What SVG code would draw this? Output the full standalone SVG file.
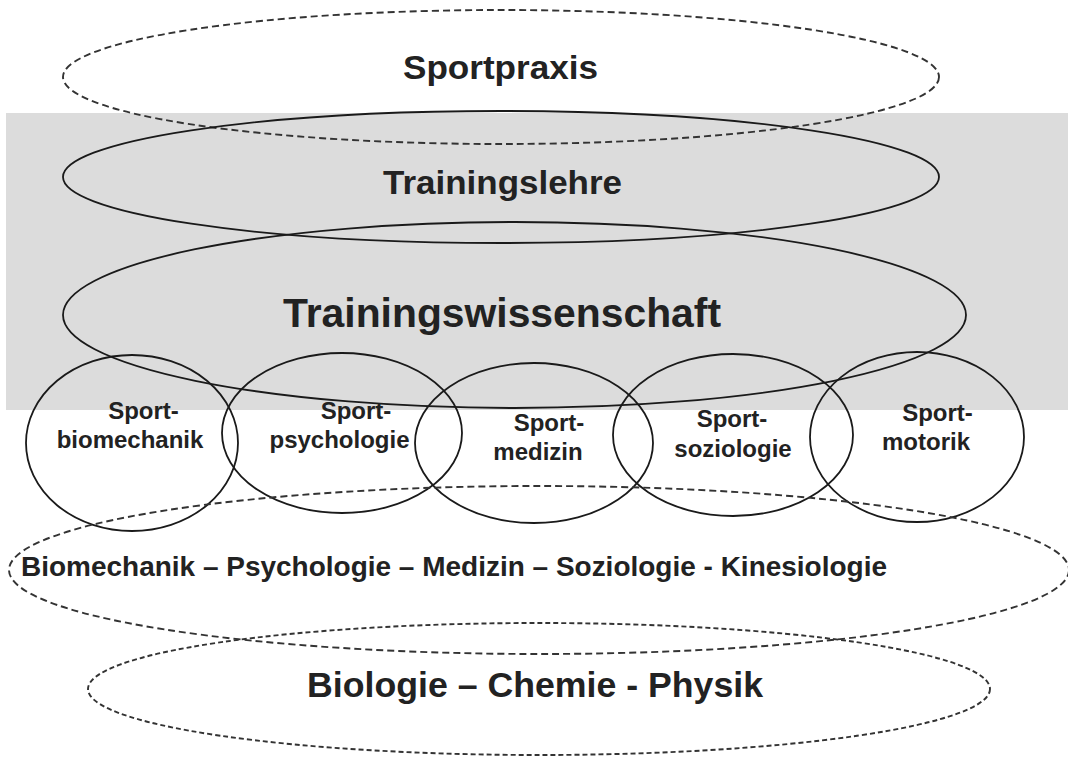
<svg xmlns="http://www.w3.org/2000/svg" width="1068" height="758" viewBox="0 0 1068 758">
  <style>
    .solid { fill: none; stroke: #1a1a1a; stroke-width: 1.8; }
    .dash { fill: none; stroke: #333; stroke-width: 1.9; stroke-dasharray: 7 4; }
    .dash2 { fill: none; stroke: #333; stroke-width: 1.9; stroke-dasharray: 5 3; }
    text { font-family: "Liberation Sans", Arial, sans-serif; font-weight: bold; fill: #222; text-anchor: middle; }
    .small { font-size: 24px; }
  </style>
  <rect id="band" x="6" y="113" width="1062" height="297" fill="#dcdcdc"/>

  <g id="sportpraxis">
    <ellipse class="dash" cx="501" cy="77" rx="438" ry="67"/>
    <text x="500.5" y="79" font-size="34" textLength="195" lengthAdjust="spacingAndGlyphs">Sportpraxis</text>
  </g>

  <g id="trainingslehre">
    <ellipse class="solid" cx="501" cy="177" rx="438" ry="66"/>
    <text x="502.5" y="194" font-size="34" textLength="239" lengthAdjust="spacingAndGlyphs">Trainingslehre</text>
  </g>

  <g id="trainingswissenschaft">
    <ellipse class="solid" cx="514.5" cy="315" rx="451.5" ry="93"/>
    <text x="502" y="327" font-size="41" textLength="438" lengthAdjust="spacingAndGlyphs">Trainingswissenschaft</text>
  </g>

  <g id="sportbiomechanik">
    <ellipse class="solid" cx="132" cy="443" rx="106" ry="88"/>
    <text class="small" x="143.5" y="419">Sport-</text>
    <text class="small" x="130" y="448">biomechanik</text>
  </g>

  <g id="sportpsychologie">
    <ellipse class="solid" cx="342" cy="433" rx="120" ry="80"/>
    <text class="small" x="356" y="419">Sport-</text>
    <text class="small" x="339.5" y="448">psychologie</text>
  </g>

  <g id="sportmedizin">
    <ellipse class="solid" cx="534" cy="443" rx="119" ry="80"/>
    <text class="small" x="549" y="431">Sport-</text>
    <text class="small" x="538" y="460">medizin</text>
  </g>

  <g id="sportsoziologie">
    <ellipse class="solid" cx="733" cy="435" rx="120" ry="81"/>
    <text class="small" x="732" y="427">Sport-</text>
    <text class="small" x="733" y="457">soziologie</text>
  </g>

  <g id="sportmotorik">
    <ellipse class="solid" cx="917" cy="437" rx="107" ry="85"/>
    <text class="small" x="937.5" y="421">Sport-</text>
    <text class="small" x="926" y="450">motorik</text>
  </g>

  <g id="grundlagen">
    <ellipse class="dash" cx="539" cy="570" rx="530" ry="84"/>
    <text x="454" y="576" font-size="28" textLength="866" lengthAdjust="spacingAndGlyphs">Biomechanik – Psychologie – Medizin – Soziologie - Kinesiologie</text>
  </g>

  <g id="naturwissenschaften">
    <ellipse class="dash2" cx="539" cy="689" rx="451" ry="66"/>
    <text x="535" y="697" font-size="35" textLength="456" lengthAdjust="spacingAndGlyphs">Biologie – Chemie - Physik</text>
  </g>
</svg>
